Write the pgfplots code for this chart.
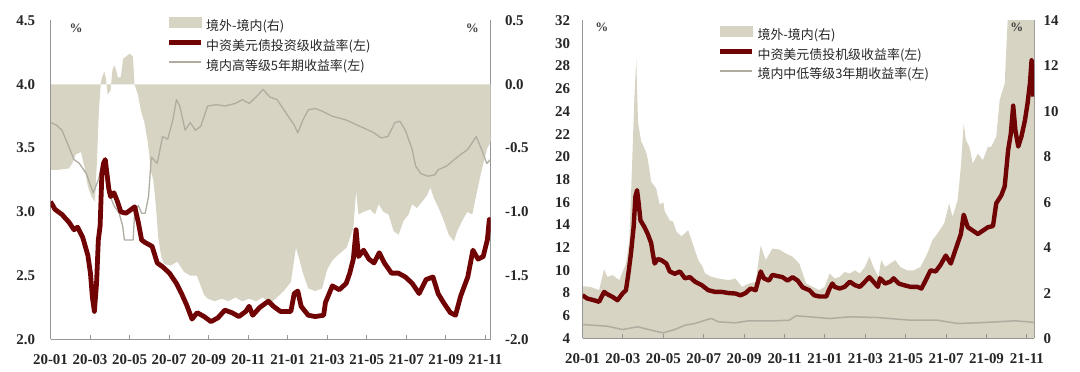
\documentclass[border=0pt]{standalone}
\usepackage{pgfplots}
\pgfplotsset{compat=1.18}
\usepackage{fontspec}
\setmainfont{Liberation Serif}
\newfontfamily\cjk{Noto Sans CJK SC}
\definecolor{areac}{RGB}{216,212,196}
\definecolor{redc}{RGB}{112,4,4}
\definecolor{grayc}{RGB}{176,172,160}
\definecolor{axisgray}{RGB}{150,150,150}
\pgfplotsset{
  base/.style={
    scale only axis, anchor=south west, xmin=0, clip=true,
    axis line style={draw=axisgray, line width=0.9bp},
    tick label style={font=\bfseries\fontsize{15}{15}\selectfont, text=black!85},
    /pgf/number format/assume math mode=true,
    /pgf/number format/fixed, /pgf/number format/fixed zerofill,
    /pgf/number format/precision=1,
    ytick style={draw=none},
    xtick style={draw=axisgray, line width=0.9bp},
    tick align=inside, major tick length=4bp,
  },
  lines/.style={
    base, axis x line*=bottom, axis y line*=left,
    xtick={0,2,...,22},
    xticklabels={20-01,20-03,20-05,20-07,20-09,20-11,21-01,21-03,21-05,21-07,21-09,21-11},
    xticklabel style={yshift=-12bp},
    legend cell align=left,
    legend image code/.code={\draw[#1] (0bp,4.5bp) -- (32bp,4.5bp);},
    legend style={draw=none, fill=none, inner sep=0pt, row sep=6.5bp,
      nodes={inner sep=0pt, text height=10bp, text depth=3bp, font=\cjk\fontsize{13}{13}\selectfont, text=black!85},
      /tikz/every odd column/.append style={column sep=3bp}},
  },
  areaimg/.style={legend image code/.code={\fill[areac] (0bp,-0.5bp) rectangle (32bp,9.5bp);}},
}
\begin{document}
\begin{tikzpicture}
\path[use as bounding box] (0bp,0bp) rectangle (1080bp,372bp);

% ---------------- Left chart: spread (right axis) ----------------
\begin{axis}[base, at={(50.5bp,32.5bp)}, width=440bp, height=319bp, xmax=22.26,
  ymin=-2, ymax=0.5, axis x line=none, axis y line*=right,
  ytick={-2,-1.5,-1,-0.5,0,0.5}, yticklabel style={xshift=11bp}]
\addplot[fill=areac, draw=none] coordinates {
(0,0) (0,-0.67) (0.4,-0.67) (0.93,-0.66) (1.1,-0.62) (1.28,-0.55) (1.54,-0.53) (1.72,-0.65)
(1.89,-0.80) (2.07,-0.88) (2.25,-0.92) (2.35,-0.6) (2.45,-0.2) (2.55,0.02) (2.62,0.06)
(2.72,0.1) (2.8,0.05) (2.89,-0.08) (3.04,-0.05) (3.12,0.1) (3.21,0.15) (3.3,0.12) (3.42,0.05)
(3.56,0.06) (3.67,0.2) (3.85,0.22) (4.0,0.24) (4.17,0.22) (4.25,0.0) (4.42,-0.08) (4.58,-0.21)
(4.75,-0.3) (4.92,-0.45) (5.08,-0.68) (5.2,-0.75) (5.33,-0.95) (5.45,-1.2) (5.6,-1.35)
(5.75,-1.41) (6.08,-1.42) (6.42,-1.39) (6.75,-1.47) (7.08,-1.5) (7.4,-1.5) (7.6,-1.58)
(7.77,-1.65) (7.95,-1.68) (8.3,-1.70) (8.65,-1.68) (9.0,-1.70) (9.35,-1.67) (9.7,-1.70)
(10.05,-1.68) (10.4,-1.70) (10.75,-1.67) (11.1,-1.72) (11.46,-1.67) (11.8,-1.62) (12.16,-1.55)
(12.42,-1.28) (12.6,-1.38) (12.77,-1.48) (13.04,-1.60) (13.39,-1.62) (13.74,-1.60) (14.0,-1.45)
(14.26,-1.38) (14.53,-1.34) (14.98,-1.28) (15.32,-1.13) (15.46,-0.84) (15.58,-1.02) (15.83,-1.0)
(16.17,-0.98) (16.42,-1.02) (16.6,-0.94) (16.85,-1.0) (17.1,-1.02) (17.36,-1.15) (17.61,-1.18)
(17.86,-1.07) (18.12,-1.02) (18.29,-0.94) (18.54,-0.97) (18.8,-0.92) (19.05,-0.87) (19.22,-0.81)
(19.39,-0.89) (19.64,-0.97) (19.9,-1.07) (20.15,-1.18) (20.41,-1.23) (20.58,-1.15) (20.83,-1.07)
(21.08,-1.0) (21.34,-1.02) (21.51,-0.89) (21.76,-0.71) (21.93,-0.6) (22.1,-0.5) (22.26,-0.45)
(22.26,0)
} -- cycle;
\end{axis}

% ---------------- Left chart: yields (left axis) ----------------
\begin{axis}[lines, at={(50.5bp,32.5bp)}, width=440bp, height=319bp, xmax=22.26,
  ymin=2, ymax=4.5, ytick={2,2.5,3,3.5,4,4.5}, yticklabel style={xshift=-12bp},
  legend style={at={(0.263,1.0103)}, anchor=north west}]
\addlegendimage{areaimg}
\addlegendentry{境外-境内(右)}
\addlegendimage{redc, line width=4.8bp}
\addlegendentry{中资美元债投资级收益率(左)}
\addlegendimage{grayc, line width=1.3bp}
\addlegendentry{境内高等级5年期收益率(左)}
\addplot[forget plot, grayc, line width=1.3bp, line join=round] coordinates {
(0,3.70) (0.3,3.68) (0.58,3.64) (0.93,3.51) (1.19,3.41) (1.46,3.38) (1.81,3.30) (2.16,3.15)
(2.42,3.25) (2.6,3.36) (2.77,3.30) (2.95,3.15) (3.21,3.05) (3.47,2.99) (3.65,2.89) (3.74,2.78)
(4.18,2.78) (4.26,3.00) (4.44,3.05) (4.61,2.99) (4.79,2.99) (4.96,3.12) (5.1,3.43) (5.40,3.38)
(5.67,3.59) (5.93,3.57) (6.19,3.72) (6.37,3.88) (6.54,3.83) (6.81,3.64) (7.07,3.70) (7.33,3.64)
(7.6,3.67) (7.95,3.83) (8.4,3.84) (8.82,3.83) (9.35,3.85) (9.7,3.88) (10.05,3.85) (10.4,3.90)
(10.75,3.96) (11.1,3.90) (11.46,3.88) (11.98,3.76) (12.33,3.68) (12.51,3.62) (12.77,3.72)
(13.04,3.80) (13.39,3.81) (13.74,3.79) (14.26,3.75) (14.96,3.72) (15.67,3.67) (16.37,3.62)
(16.72,3.58) (17.07,3.59) (17.42,3.70) (17.68,3.71) (17.95,3.64) (18.3,3.49) (18.47,3.36)
(18.74,3.30) (19.09,3.28) (19.44,3.29) (19.61,3.33) (20.05,3.36) (20.58,3.43) (21.11,3.49)
(21.54,3.59) (21.81,3.49) (22.07,3.38) (22.26,3.41)
};
\addplot[forget plot, redc, line width=4.8bp, line join=round] coordinates {
(0,3.08) (0.23,3.02) (0.4,3.00) (0.58,2.98) (0.75,2.95) (0.93,2.92) (1.19,2.86) (1.37,2.88)
(1.5,2.84) (1.63,2.80) (1.89,2.66) (2.02,2.52) (2.12,2.33) (2.22,2.22) (2.33,2.44) (2.42,2.78)
(2.51,2.89) (2.60,3.30) (2.68,3.38) (2.77,3.41) (2.95,3.18) (3.04,3.12) (3.21,3.15) (3.39,3.08)
(3.56,3.00) (3.82,2.99) (4.09,3.02) (4.26,3.04) (4.44,2.92) (4.61,2.78) (4.79,2.76) (5.14,2.73)
(5.40,2.60) (5.67,2.57) (6.02,2.52) (6.37,2.44) (6.63,2.36) (6.89,2.27) (7.16,2.16) (7.42,2.21)
(7.77,2.18) (8.12,2.14) (8.47,2.17) (8.82,2.23) (9.18,2.21) (9.53,2.18) (9.88,2.22) (10.05,2.26)
(10.23,2.19) (10.58,2.25) (11.02,2.30) (11.28,2.26) (11.63,2.22) (12.16,2.22) (12.33,2.36)
(12.51,2.38) (12.68,2.26) (13.04,2.19) (13.39,2.18) (13.82,2.19) (13.91,2.29) (14.26,2.42)
(14.61,2.39) (14.96,2.44) (15.14,2.52) (15.32,2.63) (15.46,2.86) (15.58,2.65) (15.84,2.70)
(16.11,2.63) (16.37,2.60) (16.63,2.68) (16.89,2.60) (17.25,2.52) (17.60,2.52) (17.95,2.49)
(18.30,2.44) (18.65,2.36) (19.0,2.47) (19.35,2.49) (19.61,2.36) (19.88,2.29) (20.23,2.21)
(20.49,2.19) (20.75,2.34) (21.11,2.49) (21.37,2.70) (21.63,2.63) (21.89,2.65) (22.1,2.78)
(22.2,2.94) (22.26,2.88)
};
\node[font=\bfseries\fontsize{13}{13}\selectfont, text=black!75] at (rel axis cs:0.058,0.975) {\%};
\node[font=\bfseries\fontsize{13}{13}\selectfont, text=black!75] at (rel axis cs:0.959,0.975) {\%};
\end{axis}

% ---------------- Right chart: spread (right axis) ----------------
\begin{axis}[base, at={(582.5bp,33.5bp)}, width=451.5bp, height=318bp, xmax=22.35,
  ymin=0, ymax=14, axis x line=none, axis y line*=right,
  ytick={0,2,...,14}, /pgf/number format/precision=0, yticklabel style={xshift=6bp}]
\addplot[fill=areac, draw=none] coordinates {
(0,0) (0,2.30) (0.4,2.27) (0.82,2.13) (1.07,3.05) (1.23,2.71) (1.48,2.79) (1.82,2.57)
(2.15,3.3) (2.32,4.33) (2.45,7.56) (2.57,10.64) (2.66,12.3) (2.75,9.5) (2.9,8.7) (3.15,8.2)
(3.23,7.9) (3.4,6.9) (3.65,6.6) (3.82,5.9) (4.0,6.0) (4.07,5.6) (4.32,5.2) (4.48,5.15)
(4.65,4.7) (4.9,4.5) (5.23,4.77) (5.48,4.1) (5.73,3.45) (5.92,3.2) (6.07,2.86) (6.4,2.71)
(6.73,2.64) (7.23,2.57) (7.57,2.64) (7.9,2.27) (8.23,2.42) (8.57,2.49) (8.82,4.1) (9.07,3.45)
(9.4,3.96) (9.73,3.92) (10.07,3.74) (10.4,3.6) (10.73,3.3) (11.07,2.42) (11.4,2.27) (11.73,2.13)
(11.98,2.27) (12.23,2.86) (12.48,2.64) (12.73,2.71) (12.98,2.93) (13.23,2.86) (13.48,3.0)
(13.73,2.86) (13.98,3.15) (14.2,3.6) (14.4,3.15) (14.65,2.71) (14.78,3.45) (14.98,3.15)
(15.23,3.3) (15.48,3.45) (15.73,3.15) (16.07,3.0) (16.4,3.0) (16.73,3.15) (17.07,3.74)
(17.32,4.33) (17.57,4.62) (17.9,5.06) (18.15,5.94) (18.32,5.36) (18.57,6.09) (18.73,7.56)
(18.87,9.47) (18.98,8.73) (19.15,8.44) (19.32,7.7) (19.57,8.14) (19.82,7.85) (20.07,8.44)
(20.23,8.44) (20.48,8.88) (20.65,10.5) (20.9,11.23) (21.07,14.5) (21.5,15) (22.35,15) (22.35,0)
} -- cycle;
\end{axis}

% ---------------- Right chart: yields (left axis) ----------------
\begin{axis}[lines, at={(582.5bp,33.5bp)}, width=451.5bp, height=318bp, xmax=22.35,
  ymin=4, ymax=32, ytick={4,6,...,32}, /pgf/number format/precision=0,
  yticklabel style={xshift=-9bp},
  legend style={at={(0.30,0.982)}, anchor=north west}]
\addlegendimage{areaimg}
\addlegendentry{境外-境内(右)}
\addlegendimage{redc, line width=4.4bp}
\addlegendentry{中资美元债投机级收益率(左)}
\addlegendimage{grayc, line width=1.5bp}
\addlegendentry{境内中低等级3年期收益率(左)}
\addplot[forget plot, grayc, line width=1.5bp, line join=round] coordinates {
(0,5.23) (1.23,5.08) (1.98,4.79) (2.73,5.03) (3.4,4.73) (3.98,4.5) (4.57,4.79) (5.07,5.17)
(5.57,5.32) (6.23,5.7) (6.4,5.76) (6.73,5.47) (7.57,5.38) (8.23,5.56) (9.57,5.56) (10.23,5.61)
(10.57,6.0) (11.23,5.91) (12.23,5.76) (13.23,5.91) (14.57,5.85) (16.23,5.61) (17.57,5.61)
(18.57,5.32) (19.57,5.38) (20.57,5.47) (21.4,5.56) (22.07,5.47) (22.35,5.4)
};
\addplot[forget plot, redc, line width=4.4bp, line join=round] coordinates {
(0,7.81) (0.23,7.52) (0.57,7.37) (0.82,7.23) (1.07,8.1) (1.23,7.9) (1.48,7.67) (1.73,7.37)
(1.98,7.96) (2.15,8.25) (2.27,9.7) (2.4,11.5) (2.53,13.8) (2.62,16.5) (2.7,17.06) (2.78,15.9)
(2.87,14.4) (3.07,13.8) (3.23,13.2) (3.4,12.4) (3.48,11.5) (3.57,10.6) (3.73,11.0) (3.9,10.9)
(4.15,10.6) (4.32,9.9) (4.57,9.7) (4.82,9.9) (5.07,9.3) (5.32,9.4) (5.57,9.0) (5.9,8.7)
(6.23,8.25) (6.57,8.1) (6.9,8.1) (7.23,8.0) (7.57,7.96) (7.82,7.8) (8.07,8.0) (8.32,8.4)
(8.57,8.25) (8.73,9.3) (8.82,9.9) (8.98,9.3) (9.23,9.1) (9.4,9.6) (9.65,9.5) (9.9,9.4)
(10.15,9.1) (10.4,9.4) (10.65,9.1) (10.9,8.5) (11.23,8.25) (11.48,7.8) (11.73,7.7) (12.07,7.7)
(12.23,8.4) (12.37,8.84) (12.48,8.55) (12.73,8.4) (12.98,8.55) (13.23,9.0) (13.48,8.7)
(13.73,8.55) (13.98,9.0) (14.2,9.4) (14.4,9.0) (14.62,8.55) (14.73,9.3) (14.98,8.84) (15.23,9.0)
(15.4,9.3) (15.65,8.84) (15.9,8.7) (16.23,8.55) (16.57,8.55) (16.78,8.4) (16.98,9.1) (17.23,10.0)
(17.48,9.9) (17.73,10.5) (17.98,11.3) (18.23,10.6) (18.48,11.9) (18.73,13.2) (18.87,14.9)
(19.07,13.8) (19.32,13.5) (19.57,13.2) (19.82,13.5) (20.07,13.8) (20.32,13.9) (20.48,15.9)
(20.73,16.6) (20.9,17.4) (21.07,20.6) (21.2,22.0) (21.32,24.5) (21.43,22.3) (21.57,20.9)
(21.73,21.8) (21.9,23.2) (22.03,24.7) (22.15,26.5) (22.23,28.5) (22.32,25.3)
};
\node[font=\bfseries\fontsize{13}{13}\selectfont, text=black!75] at (rel axis cs:0.043,0.98) {\%};
\node[font=\bfseries\fontsize{13}{13}\selectfont, text=black!75] at (rel axis cs:0.962,0.98) {\%};
\end{axis}
\end{tikzpicture}
\end{document}
